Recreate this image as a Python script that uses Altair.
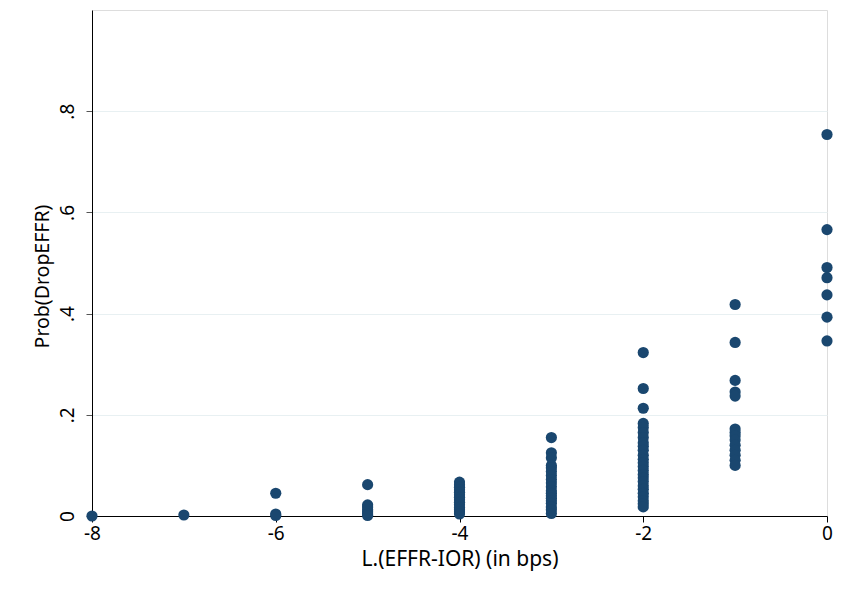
import altair as alt
import pandas as pd

# Values, one list per x column
x_m8 = [0.0]
x_m7 = [0.002]
x_m6 = [0.045, 0.004, 0.001]
x_m5 = [0.062, 0.022, 0.018, 0.012, 0.008, 0.004, 0.001]
x_m4 = [0.067, 0.062, 0.057, 0.052, 0.047, 0.042, 0.037, 0.032, 0.027,
        0.022, 0.017, 0.012, 0.008, 0.004]
x_m3 = [0.155, 0.125, 0.115, 0.100, 0.095, 0.088, 0.080, 0.072, 0.065,
        0.058, 0.050, 0.045, 0.040, 0.035, 0.030, 0.025, 0.018, 0.012, 0.005]
x_m2 = [0.323, 0.252, 0.213, 0.183, 0.175, 0.165, 0.155, 0.145, 0.138,
        0.130, 0.120, 0.112, 0.105, 0.098, 0.090, 0.082, 0.075, 0.068,
        0.060, 0.053, 0.045, 0.038, 0.030, 0.024, 0.018]
x_m1 = [0.418, 0.343, 0.268, 0.245, 0.237, 0.172, 0.165, 0.158, 0.150,
        0.140, 0.130, 0.120, 0.110, 0.100]
x_0 = [0.754, 0.566, 0.491, 0.471, 0.437, 0.393, 0.346]

columns = {-8: x_m8, -7: x_m7, -6: x_m6, -5: x_m5, -4: x_m4,
           -3: x_m3, -2: x_m2, -1: x_m1, 0: x_0}

rows = [{"x": k, "p": v} for k, vals in columns.items() for v in vals]
df = pd.DataFrame(rows)

FONT = "Noto Sans"

chart = alt.Chart(df).mark_circle(
    color="#1a476f", opacity=1, size=125
).encode(
    x=alt.X("x:Q",
            scale=alt.Scale(domain=[-8, 0], nice=False, zero=False),
            axis=alt.Axis(title="L.(EFFR-IOR) (in bps)",
                          values=[-8, -6, -4, -2, 0],
                          labelExpr="'' + datum.value",
                          labelFlush=False, labelOverlap=False,
                          grid=False, domainColor="black", tickColor="black",
                          tickSize=6, labelFontSize=19, titleFontSize=21,
                          labelColor="black", titleColor="black",
                          labelPadding=2, titlePadding=5,
                          titleFontWeight="normal", labelFont=FONT,
                          titleFont=FONT)),
    y=alt.Y("p:Q",
            scale=alt.Scale(domain=[0, 1], nice=False),
            axis=alt.Axis(title="Prob(DropEFFR)",
                          values=[0, 0.2, 0.4, 0.6, 0.8],
                          labelExpr="datum.value == 0 ? '0' : replace(format(datum.value, '.1f'), '0.', '.')",
                          labelAngle=-90, labelAlign="center",
                          labelBaseline="bottom",
                          labelFlush=False, labelOverlap=False,
                          grid=True, gridColor="#e8f0f2", gridWidth=1,
                          domainColor="black", tickColor="#555555",
                          tickSize=6, labelFontSize=19, titleFontSize=19.5,
                          labelColor="black", titleColor="black",
                          labelPadding=9, titlePadding=6, titleY=266,
                          titleFontWeight="normal", labelFont=FONT,
                          titleFont=FONT)),
).properties(
    width=735,
    height=506,
    autosize="none",
    padding={"left": 84, "top": 2, "right": 6, "bottom": 70},
).configure_view(
    stroke="#444444", strokeWidth=1, fill="white"
).configure(background="white")

chart.save("out.html", embed_options={"renderer": "svg", "actions": False})
